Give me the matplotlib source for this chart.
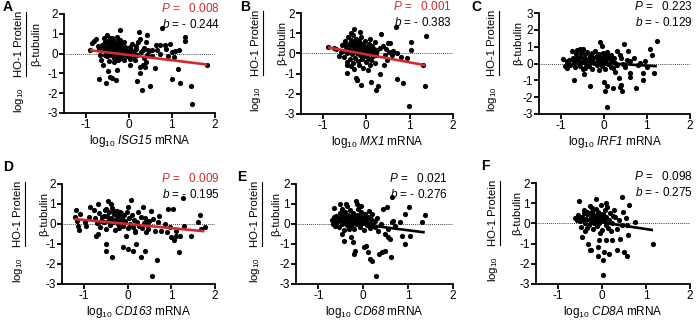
import numpy as np
import matplotlib
matplotlib.use("Agg")
import matplotlib.pyplot as plt
from matplotlib.lines import Line2D

plt.rcParams["font.family"] = ["Liberation Sans", "DejaVu Sans"]
plt.rcParams["mathtext.fontset"] = "custom"
plt.rcParams["mathtext.rm"] = "Liberation Sans"
plt.rcParams["mathtext.it"] = "Liberation Sans:italic"
plt.rcParams["mathtext.sf"] = "Liberation Sans:italic"
plt.rcParams["axes.unicode_minus"] = False

W, H = 699, 322
RED = "#d12b2b"

# ---- data (log10 mRNA, log10 HO-1/beta-tubulin) ----
pts_A = [(-0.90, 0.17), (-0.86, 0.53), (-0.80, 0.63), (-0.76, 0.74), (-0.72, 0.40), (-0.70, 0.25),
         (-0.66, -0.08), (-0.64, -0.30), (-0.60, -0.58), (-0.68, -1.27), (-0.52, -1.49), (-0.48, -0.90),
         (-0.43, -1.16), (-0.39, -1.24), (-0.29, -1.32), (-0.27, -0.83), (-0.21, 1.20),
         (-0.62, 0.45), (-0.58, 0.80), (-0.55, 0.60), (-0.52, 0.35), (-0.50, 0.95), (-0.48, 0.10),
         (-0.46, 0.70), (-0.45, 0.45), (-0.43, 0.25), (-0.42, -0.05), (-0.40, 0.55), (-0.38, 0.80),
         (-0.37, 0.30), (-0.35, 0.10), (-0.34, 0.65), (-0.33, -0.20), (-0.31, 0.45), (-0.30, 0.20),
         (-0.29, 0.00), (-0.28, 0.85), (-0.27, 0.35), (-0.26, -0.15), (-0.25, 0.60), (-0.24, 0.15),
         (-0.23, -0.25), (-0.22, 0.40), (-0.21, 0.05), (-0.20, 0.70), (-0.19, 0.25), (-0.18, -0.10),
         (-0.17, 0.50), (-0.16, 0.10), (-0.15, -0.20), (-0.14, 0.30), (-0.13, 0.00), (-0.12, 0.60),
         (-0.11, 0.15), (-0.10, -0.30), (-0.09, 0.35), (-0.08, 0.05), (-0.55, 0.15), (-0.50, -0.10),
         (-0.47, 0.50), (-0.44, 0.80), (-0.41, 0.15), (-0.39, 0.40), (-0.36, -0.05), (-0.32, 0.55),
         (-0.45, -0.35), (-0.35, -0.40), (-0.25, -0.30), (-0.56, -0.05), (-0.58, 0.25),
         (0.24, 1.10), (0.43, 0.94), (0.26, 0.74), (0.22, 0.58), (0.40, 0.58), (0.16, 0.25), (0.06, 0.08),
         (0.10, -0.16), (0.04, -0.58), (0.26, -0.66), (0.32, -0.58), (0.37, -0.66), (0.20, -1.37),
         (0.30, -1.82), (0.50, -1.62), (0.27, -0.99), (0.61, -0.74), (0.65, 0.17), (0.63, 0.41),
         (0.73, 0.41), (0.83, 0.45), (0.77, 1.29), (0.73, 0.00), (0.48, 0.12), (0.53, 0.17), (0.43, -0.08),
         (0.35, -0.21), (0.32, 0.17), (0.02, 0.35), (0.00, -0.05), (0.05, 0.20), (0.12, 0.05),
         (0.15, -0.30), (0.18, 0.40), (0.08, 0.50), (0.20, -0.05), (0.28, 0.10), (0.36, 0.30),
         (0.40, -0.40), (0.45, 0.20), (0.55, -0.10), (-0.03, 0.15), (-0.05, -0.10), (0.02, -0.25),
         (0.96, 0.50), (1.00, 0.08), (1.08, 0.12), (1.16, 0.17), (1.04, -0.16), (1.00, -1.27),
         (1.14, -0.78), (1.20, -1.49), (1.31, 0.86), (1.31, 0.63), (1.45, -1.62), (1.47, -2.56),
         (1.82, -0.58), (0.90, -0.10), (0.86, 0.25)]

pts_B = [(-0.88, 0.30), (-0.62, -0.12), (-0.58, 0.08), (-0.45, -0.58), (-0.45, -0.99), (-0.27, 1.20),
         (-0.13, 1.07), (-0.35, 0.99), (-0.23, -1.24), (-0.20, -1.32), (-0.12, -1.54), (0.12, -1.40),
         (0.23, -1.82), (0.27, -1.60), (0.31, -1.02), (0.35, 0.94), (0.41, -0.55), (0.51, 0.50),
         (0.55, 0.50), (0.62, 0.10), (0.68, 1.29), (0.70, -1.29), (0.86, -1.49), (0.94, -0.25),
         (1.04, 0.58), (1.04, 0.17), (0.99, -2.59), (1.31, -0.58), (1.37, 0.86), (1.36, -1.62),
         (-0.21, -1.30), (-0.30, -0.50), (0.04, -0.83), (0.08, -0.58), (0.12, -0.33), (0.20, -0.50),
         (0.23, -0.08), (0.31, 0.25), (0.43, -0.08), (0.47, -0.33), (-0.75, 0.25), (-0.70, 0.20),
         (0.80, -0.20), (0.60, -0.10), (0.52, 0.05), (0.45, 0.20), (0.38, 0.35), (0.70, 0.00),
         (-0.55, 0.40), (-0.52, 0.10), (-0.50, -0.20), (-0.48, 0.60), (-0.46, 0.30), (-0.44, 0.00),
         (-0.42, 0.80), (-0.40, 0.45), (-0.38, -0.30), (-0.37, 0.15), (-0.35, 0.65), (-0.33, -0.05),
         (-0.31, 0.35), (-0.30, 0.90), (-0.29, 0.10), (-0.27, 0.50), (-0.26, -0.25), (-0.25, 0.25),
         (-0.23, 0.70), (-0.22, 0.00), (-0.20, 0.40), (-0.19, -0.40), (-0.18, 0.15), (-0.16, 0.60),
         (-0.15, -0.10), (-0.13, 0.30), (-0.12, 0.80), (-0.10, 0.05), (-0.09, -0.30), (-0.07, 0.45),
         (-0.06, 0.20), (-0.04, -0.15), (-0.02, 0.60), (0.00, 0.30), (0.02, 0.05), (0.04, -0.25),
         (0.06, 0.45), (0.08, 0.15), (0.10, 0.70), (0.12, 0.00), (0.14, 0.35), (0.16, -0.15),
         (0.18, 0.20), (0.20, 0.55), (0.22, 0.05), (-0.43, -0.45), (-0.36, -0.60), (-0.28, -0.75),
         (-0.17, -0.55), (-0.08, -0.70), (0.00, -0.45), (-0.50, 0.45), (-0.41, 0.20), (-0.34, 0.40),
         (-0.24, 0.45), (-0.14, 0.50), (-0.05, 0.35), (0.05, 0.25), (0.15, 0.10), (0.25, 0.15)]

pts_C = [(-0.94, 0.28), (-0.90, -0.14), (-0.84, -0.24), (-0.68, -0.98), (-0.74, 0.72), (-0.62, 0.82),
         (-0.55, 0.88), (-0.47, 0.86), (-0.31, -1.32), (-0.45, -0.64), (-0.44, -0.28), (-0.09, 1.26),
         (-0.04, 1.02), (0.00, -1.08), (0.02, -1.62), (0.08, -2.58), (0.08, -1.32), (0.22, -1.48),
         (0.35, -0.88), (0.38, -1.38), (0.41, -1.30), (0.43, -1.64), (0.46, 1.16), (0.57, 0.76),
         (0.62, -0.78), (0.62, -0.58), (0.74, -1.48), (0.90, -0.58), (0.91, -0.98), (0.96, 0.12),
         (1.08, 0.88), (1.17, -0.58), (1.23, 1.32), (1.13, 0.52), (0.62, 0.12), (0.55, 0.22),
         (0.39, 0.32), (0.31, 0.72), (0.38, 0.52), (0.27, -0.48), (0.16, -0.18), (0.20, 0.12),
         (0.12, 0.42), (0.80, -0.10), (0.70, 0.30), (0.85, 0.05), (1.00, -0.20), (0.50, -0.20),
         (0.45, 0.00), (0.30, -0.10),
         (-0.86, 0.05), (-0.80, 0.20), (-0.78, -0.10), (-0.72, 0.35), (-0.70, 0.05), (-0.66, -0.20),
         (-0.64, 0.55), (-0.60, 0.20), (-0.58, -0.05), (-0.56, 0.40), (-0.52, 0.65), (-0.50, 0.10),
         (-0.48, -0.30), (-0.46, 0.30), (-0.44, 0.55), (-0.40, 0.00), (-0.38, 0.70), (-0.36, 0.25),
         (-0.34, -0.15), (-0.32, 0.45), (-0.30, 0.10), (-0.28, 0.60), (-0.26, -0.30), (-0.24, 0.30),
         (-0.22, 0.05), (-0.20, 0.75), (-0.18, 0.40), (-0.16, -0.10), (-0.14, 0.20), (-0.12, 0.55),
         (-0.10, -0.40), (-0.08, 0.10), (-0.06, 0.35), (-0.04, -0.15), (-0.02, 0.65), (0.00, 0.20),
         (0.02, -0.30), (0.04, 0.45), (0.06, 0.05), (0.08, 0.70), (0.10, -0.05), (0.14, 0.25),
         (0.18, 0.50), (0.22, -0.25), (0.24, 0.35), (0.26, 0.05), (-0.62, 0.30), (-0.54, -0.15),
         (-0.42, 0.20), (-0.28, 0.15), (-0.16, 0.45), (-0.05, 0.00), (0.05, 0.25)]

pts_D = [(-1.21, 0.33), (-1.18, 0.70), (-1.16, 0.17), (-1.14, -0.08), (-1.10, -0.30), (-1.08, 0.50),
         (-0.98, 0.08), (-0.94, -0.08), (-0.89, 0.33), (-0.85, 0.83), (-0.77, 0.70), (-0.72, -0.58),
         (-0.68, -0.50), (-0.68, 1.00), (-0.60, 0.17), (-0.53, 0.42), (-0.49, 0.75), (-0.49, -1.00),
         (-0.49, -1.33), (-0.44, 1.13), (-0.37, 1.00), (-0.36, -1.63), (-0.30, 0.67), (-0.18, 0.58),
         (-0.11, -1.17), (-0.07, 0.17), (-0.03, -0.58), (0.01, 0.83), (0.01, -1.25), (0.08, 1.22),
         (0.12, -1.33), (0.16, -0.33), (0.20, -1.00), (0.24, 0.58), (0.30, -1.63), (0.35, 0.83),
         (0.39, -1.33), (0.47, -0.25), (0.50, 0.17), (0.54, 0.67), (0.58, 0.25), (0.62, -0.33),
         (0.67, -1.80), (0.56, -2.58), (0.73, 0.42), (0.76, -0.33), (0.85, 0.00), (0.92, 0.75),
         (0.96, -0.17), (1.00, -0.67), (1.04, 0.75), (1.06, -0.80), (1.11, -0.33), (1.11, -0.58),
         (1.17, -1.38), (1.19, -0.58), (1.27, 1.28), (1.46, -0.58), (1.61, 0.12), (1.66, 0.45),
         (1.68, -0.25), (1.76, -0.17), (0.70, 0.10), (0.90, -0.40), (1.30, -0.10), (0.40, 0.30),
         (0.44, -0.05),
         (-0.75, 0.30), (-0.70, 0.05), (-0.66, 0.55), (-0.62, -0.15), (-0.58, 0.35), (-0.55, 0.10),
         (-0.52, 0.70), (-0.50, -0.25), (-0.47, 0.40), (-0.45, 0.15), (-0.42, 0.60), (-0.40, -0.05),
         (-0.38, 0.30), (-0.35, 0.80), (-0.33, 0.10), (-0.31, 0.50), (-0.29, -0.30), (-0.27, 0.25),
         (-0.25, 0.65), (-0.23, 0.00), (-0.21, 0.40), (-0.19, -0.20), (-0.17, 0.15), (-0.15, 0.55),
         (-0.13, 0.30), (-0.10, -0.10), (-0.08, 0.45), (-0.05, 0.10), (-0.02, 0.60), (0.00, -0.20),
         (0.03, 0.30), (0.06, 0.00), (0.09, 0.45), (0.12, -0.15), (0.15, 0.20), (0.18, -0.40),
         (0.22, 0.10), (0.26, -0.10), (0.30, 0.35), (0.34, -0.20), (0.38, 0.05), (0.42, -0.40),
         (0.45, 0.15)]

pts_E = [(-0.66, 0.80), (-0.66, 0.33), (-0.64, 0.17), (-0.62, -0.08), (-0.52, 1.00), (-0.48, 0.75),
         (-0.47, -0.50), (-0.43, -0.83), (-0.38, 1.00), (-0.36, 0.92), (-0.32, -0.25), (-0.28, -0.67),
         (-0.24, -0.92), (-0.20, -1.50), (-0.18, -1.33), (-0.17, 1.17), (-0.13, 1.00), (-0.05, 0.92),
         (0.02, -1.17), (0.06, -1.08), (0.10, -1.42), (0.14, -1.75), (0.19, -1.87), (0.29, -2.58),
         (0.36, -1.50), (0.42, -1.42), (0.48, -1.33), (0.44, 0.75), (0.52, 0.83), (0.48, -0.50),
         (0.54, -0.67), (0.59, -0.75), (0.61, -1.63), (0.63, 1.33), (0.63, 0.08), (0.67, 0.17),
         (0.82, 0.08), (0.86, -0.58), (0.92, -1.00), (0.93, 0.50), (1.03, 0.87), (1.05, -0.58),
         (1.30, 0.12), (1.37, 0.45), (0.55, -0.25), (0.70, -0.08), (0.33, -0.33), (0.25, -0.17),
         (0.40, 0.00), (0.30, 0.30), (0.20, 0.50),
         (-0.70, 0.20), (-0.68, 0.00), (-0.60, 0.40), (-0.58, 0.10), (-0.55, -0.15), (-0.52, 0.55),
         (-0.50, 0.25), (-0.48, 0.00), (-0.46, 0.40), (-0.44, -0.30), (-0.42, 0.15), (-0.40, 0.60),
         (-0.38, 0.30), (-0.36, -0.05), (-0.34, 0.45), (-0.32, 0.20), (-0.30, 0.70), (-0.28, -0.10),
         (-0.26, 0.35), (-0.24, 0.10), (-0.22, 0.55), (-0.20, -0.25), (-0.18, 0.25), (-0.16, 0.00),
         (-0.14, 0.45), (-0.12, 0.75), (-0.10, 0.15), (-0.08, -0.15), (-0.06, 0.35), (-0.04, 0.60),
         (-0.02, 0.05), (0.00, 0.30), (0.02, -0.30), (0.04, 0.50), (0.06, 0.15), (0.08, -0.05),
         (0.10, 0.35), (0.12, 0.65), (0.14, 0.05), (0.16, -0.20), (0.18, 0.25), (0.22, -0.05),
         (0.26, 0.15), (-0.35, 0.25), (-0.25, 0.40), (-0.15, 0.20), (-0.05, 0.25), (0.05, 0.25),
         (-0.30, 0.05), (-0.20, 0.05), (-0.10, 0.40), (0.00, 0.10), (-0.45, 0.20), (-0.55, 0.30)]

pts_F = [(-0.61, 0.25), (-0.57, 0.17), (-0.52, 1.12), (-0.46, -0.67), (-0.42, 0.50), (-0.38, 0.00),
         (-0.34, -0.25), (-0.31, -1.00), (-0.28, -1.30), (-0.25, -1.33), (-0.23, 0.75), (-0.18, 0.00),
         (-0.13, 1.22), (-0.10, -1.63), (-0.08, -1.17), (-0.06, -0.83), (-0.04, -0.50), (0.02, -1.83),
         (0.04, -1.42), (0.08, -0.83), (0.09, 1.00), (0.15, -1.50), (0.23, -0.80), (0.27, 0.67),
         (0.34, -1.33), (0.38, 0.17), (0.42, -0.75), (0.46, 1.33), (0.48, 0.58), (0.50, -1.42),
         (0.56, -1.63), (0.56, -0.08), (0.60, -0.58), (0.61, 0.92), (0.76, 0.08), (1.16, -1.00),
         (0.02, -2.55), (0.35, -0.30), (0.45, -0.10), (0.30, 0.30), (0.20, -0.40), (0.55, 0.25),
         (-0.55, 0.40), (-0.50, 0.10), (-0.48, -0.20), (-0.45, 0.30), (-0.40, 0.65), (-0.38, -0.40),
         (-0.36, 0.20), (-0.33, 0.45), (-0.30, -0.10), (-0.28, 0.85), (-0.26, 0.30), (-0.24, 0.05),
         (-0.22, 0.55), (-0.20, -0.30), (-0.18, 0.40), (-0.16, 0.15), (-0.14, 0.70), (-0.12, -0.15),
         (-0.10, 0.30), (-0.08, 0.55), (-0.06, 0.00), (-0.04, 0.25), (-0.02, 0.90), (0.00, -0.35),
         (0.02, 0.45), (0.04, 0.10), (0.06, 0.65), (0.08, -0.10), (0.10, 0.30), (0.12, 0.80),
         (0.14, -0.25), (0.16, 0.15), (0.18, 0.50), (0.22, 0.00), (0.25, 0.35), (-0.35, 0.55),
         (-0.25, 0.50), (-0.15, 0.35), (-0.05, 0.45), (0.05, 0.30), (-0.28, 0.15), (-0.10, 0.10),
         (0.00, 0.15), (-0.42, 0.10)]

letters = ["A", "B", "C", "D", "E", "F"]
genes = ["ISG15", "MX1", "IRF1", "CD163", "CD68", "CD8A"]
p_values = ["0.008", "0.001", "0.223", "0.009", "0.021", "0.098"]
b_values = ["- 0.244", "- 0.383", "- 0.129", "- 0.195", "- 0.276", "- 0.275"]
significant = [True, True, False, True, False, False]
# regression line: slope, intercept
fit_slope = [-0.265, -0.395, -0.157, -0.206, -0.285, -0.33]
fit_intercept = [-0.07, -0.048, 0.032, 0.0, -0.028, 0.05]
y_top = [2, 2, 3, 2, 2, 2]

# layout in pixels: axes box (left, top, right, bottom)
boxes = [(64, 14, 215, 113), (301, 13, 453, 114), (539, 13, 690, 114),
         (62, 184, 215, 284), (296, 184, 453, 284), (536, 183, 690, 284)]
letter_pos = [(3, 7), (240, 7), (471, 7), (3, 167), (237, 177), (481, 166)]
ylab_cols = [(19, 36), (256, 282), (492, 518), (18, 44), (255, 276), (493, 517)]
stat_right = [220, 452, 693, 220, 448, 693]


def px(x, y):
    return x / W, 1 - y / H


fig = plt.figure(figsize=(W / 100, H / 100), dpi=100)

panel_pts = [pts_A, pts_B, pts_C, pts_D, pts_E, pts_F]
for i in range(6):
    l, t, r, b = boxes[i]
    ax = fig.add_axes([l / W, 1 - b / H, (r - l) / W, (b - t) / H])
    xs = np.array([p[0] for p in panel_pts[i]])
    ys = np.array([p[1] for p in panel_pts[i]])
    ax.scatter(xs, ys, s=14, color="black", linewidths=0, zorder=2, clip_on=False)
    lc = RED if significant[i] else "black"
    fx = np.array([xs.min(), xs.max()])
    ax.plot(fx, fit_intercept[i] + fit_slope[i] * fx, color=lc, lw=1.9, zorder=3,
            solid_capstyle="butt")
    ax.axhline(0, color="black", lw=0.6, ls=(0, (1, 1.5)), zorder=1)

    ax.set_xlim(-1.5, 2)
    ax.set_ylim(-3, y_top[i])
    ax.set_xticks([-1, 0, 1, 2])
    ax.set_yticks(range(-3, y_top[i] + 1))
    for s in ["top", "right"]:
        ax.spines[s].set_visible(False)
    for s in ["left", "bottom"]:
        ax.spines[s].set_linewidth(1.3)
    ax.tick_params(direction="out", length=3.5, width=1.3, labelsize=8.5, pad=1)
    ax.set_xlabel("log$_{10}$ $\\mathsf{" + genes[i] + "}$ mRNA", fontsize=8.5, labelpad=1)

    # y label: log10 (HO-1 Protein / beta-tubulin)
    hx, bx = ylab_cols[i]
    fy = t + 30
    fig.text(*px(hx, fy), "HO-1 Protein", rotation=90, ha="center", va="center", fontsize=8.2)
    fig.text(*px(bx, fy), "β-tubulin", rotation=90, ha="center", va="center", fontsize=8.2)
    fig.text(*px(hx, t + 86), "log$_{10}$", rotation=90, ha="center", va="center", fontsize=8.2)
    ux = hx + 6.5
    fig.add_artist(Line2D([ux / W, ux / W], [1 - (fy - 32) / H, 1 - (fy + 32) / H],
                          color="black", lw=0.8))

    # stats text
    sc = RED if significant[i] else "black"
    sr = stat_right[i]
    fig.text(*px(sr, t - 6), "$P$ =   " + p_values[i], ha="right", va="center",
             fontsize=8.5, color=sc)
    fig.text(*px(sr, t + 10), "$b$ = " + b_values[i], ha="right", va="center",
             fontsize=8.5, color="black")

    fig.text(*px(*letter_pos[i]), letters[i], ha="left", va="center",
             fontsize=10, fontweight="bold")

fig.savefig("out.png", dpi=100)
